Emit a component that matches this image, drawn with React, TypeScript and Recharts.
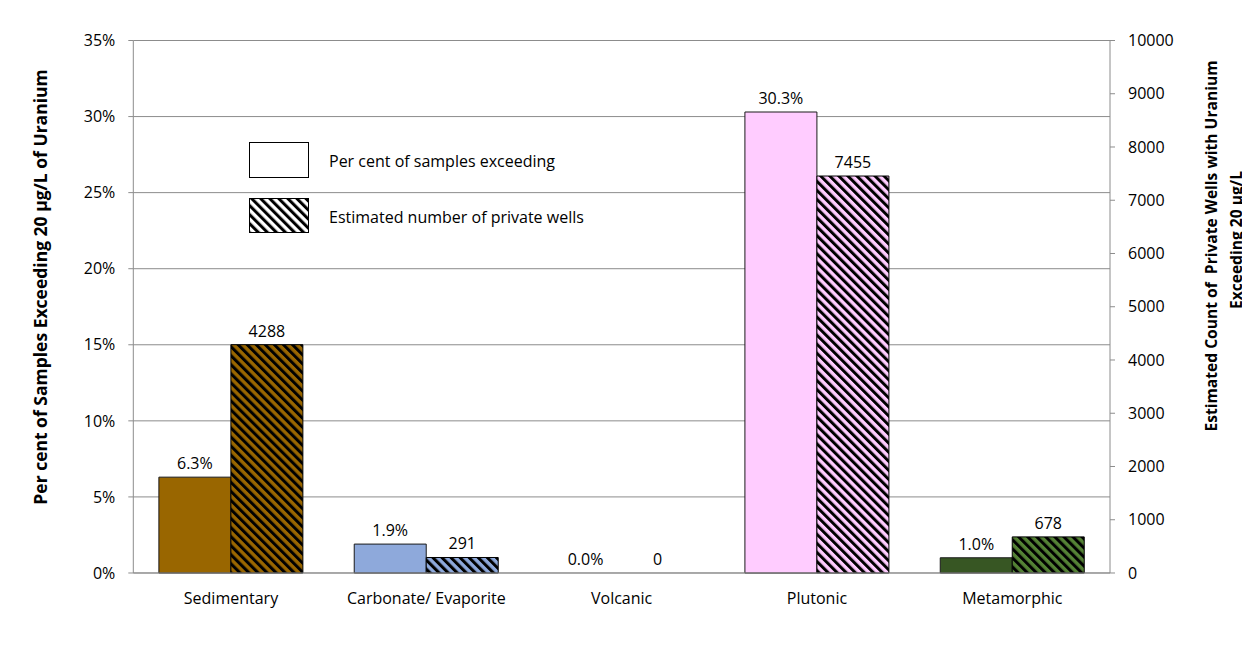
import React from "react";
import {
  BarChart,
  Bar,
  Cell,
  XAxis,
  YAxis,
  CartesianGrid,
  LabelList,
  Legend,
  Label,
} from "recharts";

const categories = ["Sedimentary", "Carbonate/ Evaporite", "Volcanic", "Plutonic", "Metamorphic"];
const percentExceeding = [6.3, 1.9, 0.0, 30.3, 1.0];
const privateWells = [4288, 291, 0, 7455, 678];
const solidColors = ["#996600", "#8EA9DB", "#FFCCFF", "#FFCCFF", "#375623"];
const hatchColors = ["#996600", "#8EA9DB", "#FFCCFF", "#FFCCFF", "#548235"];
const percentTicks = [0, 5, 10, 15, 20, 25, 30, 35];
const countTicks = [0, 1000, 2000, 3000, 4000, 5000, 6000, 7000, 8000, 9000, 10000];
const separatorTicks = [0, 1, 2, 3, 4, 5];

const data = categories.map((name, i) => ({
  name,
  pct: percentExceeding[i],
  wells: privateWells[i],
}));

const FONT = "'Open Sans', Lato, sans-serif";
const GRID = "#8c8c8c";
const TEXT_SIZE = 16;

// "\" stripes like Excel's wide downward diagonal
const Hatch = ({ id, color }: { id: string; color: string }) => (
  <pattern id={id} patternUnits="userSpaceOnUse" width={6.4} height={6.4} patternTransform="rotate(-45)">
    <rect x={0} y={0} width={6.4} height={6.4} fill={color} />
    <rect x={0} y={0} width={3} height={6.4} fill="#000" />
  </pattern>
);

const LegendContent = () => (
  <div style={{ fontFamily: FONT, fontSize: TEXT_SIZE, color: "#000" }}>
    <div style={{ display: "flex", alignItems: "center", height: 37 }}>
      <svg width={61} height={37}>
        <rect x={0.5} y={0.5} width={59} height={35} fill="#fff" stroke="#000" />
      </svg>
      <span style={{ marginLeft: 19 }}>Per cent of samples exceeding</span>
    </div>
    <div style={{ display: "flex", alignItems: "center", height: 37, marginTop: 19 }}>
      <svg width={61} height={37}>
        <defs>
          <Hatch id="legendHatch" color="#fff" />
        </defs>
        <rect x={0.5} y={0.5} width={59} height={34} fill="url(#legendHatch)" stroke="#000" />
      </svg>
      <span style={{ marginLeft: 19 }}>Estimated number of private wells</span>
    </div>
  </div>
);

const LeftTitle = () => (
  <text
    x={32}
    y={279}
    transform="rotate(-90, 32, 279)"
    textAnchor="middle"
    dominantBaseline="central"
    fontFamily={FONT}
    fontWeight="bold"
    fontSize={17.5}
    fill="#000"
  >
    Per cent of Samples Exceeding 20 µg/L of Uranium
  </text>
);

const RightTitle = () => (
  <g fontFamily={FONT} fontWeight="bold" fontSize={15.6} fill="#000">
    <text
      x={1203}
      y={238}
      transform="rotate(-90, 1203, 238)"
      textAnchor="middle"
      dominantBaseline="central"
      style={{ whiteSpace: "pre" }}
    >
      {"Estimated Count of  Private Wells with Uranium"}
    </text>
    <text x={1228} y={232} transform="rotate(-90, 1228, 232)" textAnchor="middle" dominantBaseline="central">
      Exceeding 20 µg/L
    </text>
  </g>
);

// draws the value above each bar, zero-height bars included
const TopLabel = (props: any) => {
  const { x, y, width, height, value, format } = props;
  const top = Math.min(y, y + height);
  return (
    <text
      x={x + width / 2}
      y={top - 8}
      textAnchor="middle"
      fontFamily={FONT}
      fontSize={TEXT_SIZE}
      fill="#000"
    >
      {format ? format(value) : value}
    </text>
  );
};

const zeroMin = (v: any) => (Number(v) === 0 ? 0.01 : 0);

export default function App() {
  const tickStyle = { fontFamily: FONT, fontSize: TEXT_SIZE, fill: "#000" };
  return (
    <div style={{ position: "relative", width: 1242, height: 644 }}>
      <div
        style={{
          position: "absolute",
          left: -1,
          top: -1,
          width: 1243,
          height: 645,
          borderTop: "1px solid #898989",
          borderLeft: "1px solid #898989",
          boxSizing: "border-box",
          pointerEvents: "none",
        }}
      />
      <BarChart
        width={1242}
        height={644}
        data={data}
        margin={{ top: 32.5, right: 60, bottom: 49, left: 45.3 }}
        barCategoryGap="13.1%"
        barGap={0}
      >
        <defs>
          {hatchColors.map((c, i) => (
            <Hatch key={i} id={`hatch${i}`} color={c} />
          ))}
        </defs>
        <CartesianGrid yAxisId="left" vertical={false} stroke={GRID} />
        <XAxis
          xAxisId="sep"
          type="number"
          domain={[0, 5]}
          ticks={separatorTicks}
          allowDataOverflow
          tick={false}
          axisLine={false}
          tickLine={{ stroke: GRID }}
          tickSize={5}
          height={0.01}
        />
        <XAxis
          xAxisId="cat"
          dataKey="name"
          axisLine={{ stroke: GRID }}
          tickLine={false}
          tickSize={0}
          tickMargin={20}
          tick={tickStyle}
          interval={0}
          height={30}
        />
        <YAxis
          yAxisId="left"
          domain={[0, 35]}
          ticks={percentTicks}
          tickFormatter={(v: number) => `${v}%`}
          axisLine={{ stroke: GRID }}
          tickLine={{ stroke: GRID }}
          tickSize={5}
          tickMargin={13}
          tick={tickStyle}
          width={80}
        >
          <Label content={<LeftTitle />} />
        </YAxis>
        <YAxis
          yAxisId="right"
          orientation="right"
          domain={[0, 10000]}
          ticks={countTicks}
          axisLine={{ stroke: GRID }}
          tickLine={{ stroke: GRID }}
          tickSize={5}
          tickMargin={13}
          tick={{ ...tickStyle, textAnchor: "start" }}
          width={80}
        >
          <Label content={<RightTitle />} />
        </YAxis>
        <Legend
          layout="vertical"
          align="center"
          verticalAlign="middle"
          content={<LegendContent />}
          wrapperStyle={{ position: "absolute", left: 241, top: 134, width: 460 }}
        />
        <Bar
          dataKey="pct"
          xAxisId="cat"
          yAxisId="left"
          stroke="#1a1a1a"
          minPointSize={zeroMin}
          isAnimationActive={false}
        >
          {data.map((d, i) => (
            <Cell
              key={i}
              fill={d.pct === 0 ? "none" : solidColors[i]}
              stroke={d.pct === 0 ? "none" : "#1a1a1a"}
            />
          ))}
          <LabelList
            dataKey="pct"
            content={(p: any) => <TopLabel {...p} format={(v: any) => `${Number(v).toFixed(1)}%`} />}
          />
        </Bar>
        <Bar
          dataKey="wells"
          xAxisId="cat"
          yAxisId="right"
          stroke="#000"
          minPointSize={zeroMin}
          isAnimationActive={false}
        >
          {data.map((d, i) => (
            <Cell
              key={i}
              fill={d.wells === 0 ? "none" : `url(#hatch${i})`}
              stroke={d.wells === 0 ? "none" : "#000"}
            />
          ))}
          <LabelList dataKey="wells" content={(p: any) => <TopLabel {...p} />} />
        </Bar>
      </BarChart>
    </div>
  );
}
